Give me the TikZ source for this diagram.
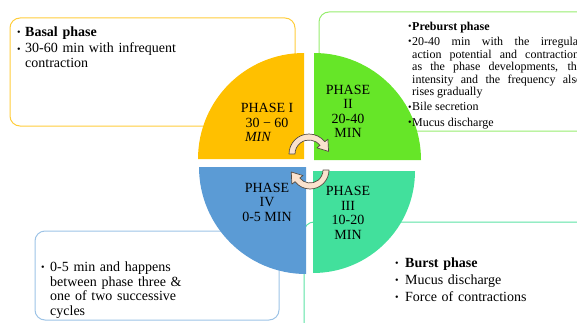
\documentclass[tikz,border=0pt]{standalone}
\usepackage{fontspec}
\setmainfont{Liberation Serif}
\usetikzlibrary{calc}
\definecolor{phaseone}{RGB}{255,192,0}
\definecolor{phasetwo}{RGB}{102,230,40}
\definecolor{phasethree}{RGB}{66,224,156}
\definecolor{phasefour}{RGB}{91,155,213}
\definecolor{oneline}{RGB}{255,205,60}
\definecolor{twoline}{RGB}{150,236,110}
\definecolor{threeline}{RGB}{90,226,165}
\definecolor{fourline}{RGB}{157,195,230}
\definecolor{turnfill}{RGB}{250,226,206}
\definecolor{turnline}{RGB}{85,75,65}
\newlength{\bulw}
\newcommand{\bitem}[1]{\noindent\hangindent=\bulw\hangafter=1\makebox[\bulw][l]{\raisebox{0.5pt}{\fontsize{10}{10}\selectfont\textbullet}}#1\par}

\begin{document}
\begin{tikzpicture}[x=1pt, y=1pt,
  frame/.style={rounded corners=10pt, line width=1pt},
  label/.style={align=center, inner sep=0pt, font=\fontsize{14}{14.5}\selectfont},
  notes/.style={anchor=north west, inner sep=0pt, align=left, text width=#1},
  bulletgap/.style={execute at begin node={\setlength{\bulw}{#1}}},
  turn/.style={fill=turnfill, draw=turnline, line width=0.7pt, line join=round}
]
  \useasboundingbox (0,0) rectangle (577,322);
  \clip (0,0) rectangle (577,322);

  \draw[frame, oneline] (10,196) rectangle (295,304);
  \draw[frame, twoline] (319,191) rectangle (620,310);
  \draw[frame, fourline] (35,2) rectangle (279,91);
  \draw[frame, threeline] (304,-30) rectangle (620,100);

  \fill[phaseone] (304,163) -- ++(-106,0) arc[start angle=180, end angle=90, radius=106] -- cycle;
  \fill[phasetwo] (314,162) -- ++(0,107) arc[start angle=90, end angle=0, radius=107] -- cycle;
  \fill[phasefour] (306,155) -- ++(0,-107) arc[start angle=270, end angle=180, radius=107] -- cycle;
  \fill[phasethree] (313,151) -- ++(102,0) arc[start angle=0, end angle=-90, radius=102] -- cycle;

  \node[label] (one) at (267,199.5) {PHASE I\\30 − 60\\\makebox[44pt][l]{\textit{MIN}}};
  \node[label] (two) at (348,210.5) {PHASE\\II\\20-40\\MIN};
  \node[label] (four) at (267,120) {PHASE\\IV\\0-5 MIN};
  \node[label] (three) at (348,109) {PHASE\\III\\10-20\\MIN};

  \coordinate (cu) at (309,168);
  \coordinate (cl) at (310,152);
  \draw[turn] ($(cu)+(180:14)$) -- ($(cu)+(180:20)$) arc[start angle=180, end angle=38, radius=20]
    -- ($(cu)+(38:24)$) -- ($(cu)+(38:17)+(-52:10)$) -- ($(cu)+(38:10)$) -- ($(cu)+(38:14)$)
    arc[start angle=38, end angle=180, radius=14] -- cycle;
  \draw[turn] ($(cl)+(0:13)$) -- ($(cl)+(0:19)$) arc[start angle=0, end angle=-142, radius=19]
    -- ($(cl)+(-142:23)$) -- ($(cl)+(-142:16)+(128:10)$) -- ($(cl)+(-142:9)$) -- ($(cl)+(-142:13)$)
    arc[start angle=-142, end angle=0, radius=13] -- cycle;

  \node[notes=200pt, bulletgap=8pt, font=\fontsize{14}{15}\selectfont] (basal) at (17,295.5)
    {\setlength{\parskip}{1.5pt}\bitem{\textbf{Basal phase}}\bitem{30-60 min with infrequent\linebreak contraction}};
  \node[notes=174pt, bulletgap=4pt, align=justify, font=\fontsize{12}{12.6}\selectfont] (preburst) at (408,300.2)
    {\setlength{\parskip}{2.5pt}\bitem{\textbf{Preburst phase}}\bitem{20-40 min with the irregular\linebreak
     action potential and contraction,\linebreak as the phase developments, the\linebreak
     intensity and the frequency also\linebreak rises gradually}\bitem{Bile secretion}\bitem{Mucus discharge}};
  \node[notes=180pt, bulletgap=10pt, font=\fontsize{14}{17}\selectfont] (burst) at (395,64.5)
    {\bitem{\textbf{Burst phase}}\bitem{Mucus discharge}\bitem{Force of contractions}};
  \node[notes=200pt, bulletgap=9pt, font=\fontsize{14}{14.7}\selectfont] (cycles) at (41,60.6)
    {\bitem{0-5 min and happens\linebreak between phase three \&\linebreak one of two successive\linebreak cycles}};
\end{tikzpicture}
\end{document}
